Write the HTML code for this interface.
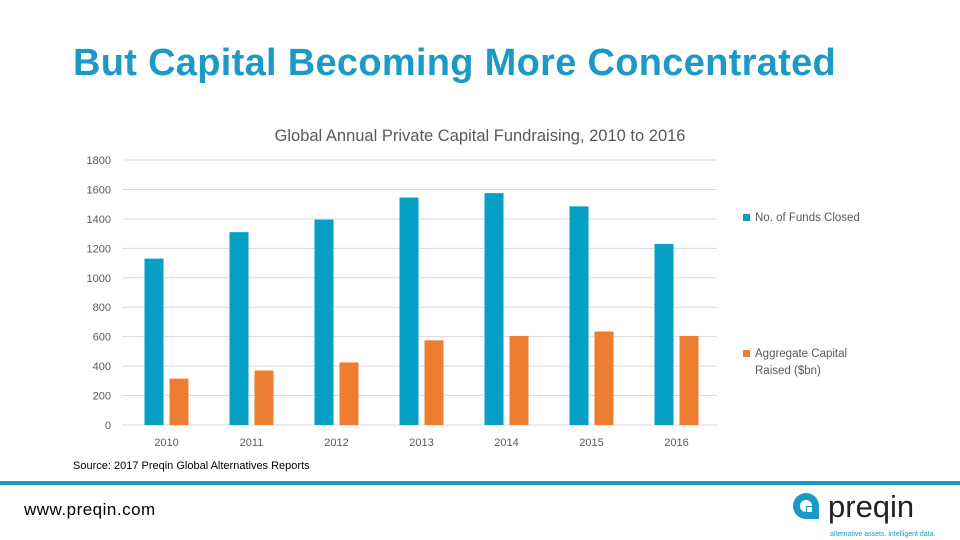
<!DOCTYPE html>
<html><head><meta charset="utf-8"><style>
body{margin:0;width:960px;height:540px;background:#fff;overflow:hidden;font-family:"Liberation Sans",sans-serif;position:relative}
.title{position:absolute;left:73px;top:42px;font-size:38px;font-weight:bold;color:#1b9ac6;white-space:nowrap;letter-spacing:0.3px}
svg{position:absolute;left:0;top:0}
.src{position:absolute;left:73px;top:460px;font-size:11px;color:#000}
.band{position:absolute;left:0;top:481px;width:960px;height:4px;background:#1b9ac6}
.url{position:absolute;left:24px;top:500px;font-size:17px;color:#000;letter-spacing:0.5px}
</style></head><body>
<div class="title">But Capital Becoming More Concentrated</div>
<svg id="chart" width="960" height="540"></svg>
<div class="src">Source: 2017 Preqin Global Alternatives Reports</div>
<div class="band"></div>
<div class="url">www.preqin.com</div>
<svg width="960" height="540" style="pointer-events:none">
<circle cx="806" cy="506" r="13" fill="#1b9ac6"/>
<circle cx="806" cy="506" r="6" fill="#fff"/>
<rect x="806" y="506" width="13" height="13" fill="#1b9ac6"/>
<rect x="807" y="507" width="5" height="5" fill="#fff"/>
<text x="828" y="517" font-size="31" fill="#222" font-family="Liberation Sans, sans-serif">preqin</text>
<text x="830" y="536" font-size="7" fill="#1b9ac6" font-family="Liberation Sans, sans-serif">alternative assets. intelligent data.</text>
</svg>
<script>
const categories=["2010","2011","2012","2013","2014","2015","2016"];
const fundsClosed=[1130,1310,1395,1545,1575,1485,1230];
const capitalRaised=[315,370,425,575,605,635,605];
const yTicks=[0,200,400,600,800,1000,1200,1400,1600,1800];
const ns="http://www.w3.org/2000/svg";
const svg=document.getElementById('chart');
const x0=122,x1=717,yb=425,yt=160,yMax=1800;
const y=v=>yb-(v/yMax)*(yb-yt);
const band=(x1-x0)/categories.length;
function mk(tag,attrs){const e=document.createElementNS(ns,tag);for(const k in attrs)e.setAttribute(k,attrs[k]);svg.appendChild(e);return e;}
const t=mk('text',{x:480,y:141,'font-size':16.5,fill:'#595959','text-anchor':'middle','font-family':'Liberation Sans, sans-serif'});
t.textContent='Global Annual Private Capital Fundraising, 2010 to 2016';


yTicks.forEach(v=>{
 const l=mk('line',{x1:x0,x2:x1,y1:y(v),y2:y(v),stroke:'#d9d9d9','stroke-width':1});
 
 
 const tx=mk('text',{x:111,y:y(v)+4,'font-size':11,fill:'#595959','text-anchor':'end','font-family':'Liberation Sans, sans-serif'});
 tx.textContent=v;
 
 
});
categories.forEach((c,i)=>{
 const cx=x0+band*(i+0.5);
 const b=mk('rect',{x:cx-20,y:y(fundsClosed[i]),width:19,height:yb-y(fundsClosed[i]),fill:'#06a0c6'});
 
 
 const o=mk('rect',{x:cx+5,y:y(capitalRaised[i]),width:19,height:yb-y(capitalRaised[i]),fill:'#ed7d31'});
 
 
 const tx=mk('text',{x:cx+2,y:446,'font-size':11,fill:'#595959','text-anchor':'middle','font-family':'Liberation Sans, sans-serif'});
 tx.textContent=c;
 
 
});
const lg1=mk('rect',{x:743,y:214,width:7,height:7,fill:'#06a0c6'});


const lt1=mk('text',{x:755,y:221,'font-size':11.5,fill:'#595959','font-family':'Liberation Sans, sans-serif'});
lt1.textContent='No. of Funds Closed';


const lg2=mk('rect',{x:743,y:350,width:7,height:7,fill:'#ed7d31'});


const lt2=mk('text',{x:755,y:357,'font-size':11.5,fill:'#595959','font-family':'Liberation Sans, sans-serif'});
lt2.textContent='Aggregate Capital';


const lt3=mk('text',{x:755,y:374,'font-size':11.5,fill:'#595959','font-family':'Liberation Sans, sans-serif'});
lt3.textContent='Raised ($bn)';


</script>
</body></html>
